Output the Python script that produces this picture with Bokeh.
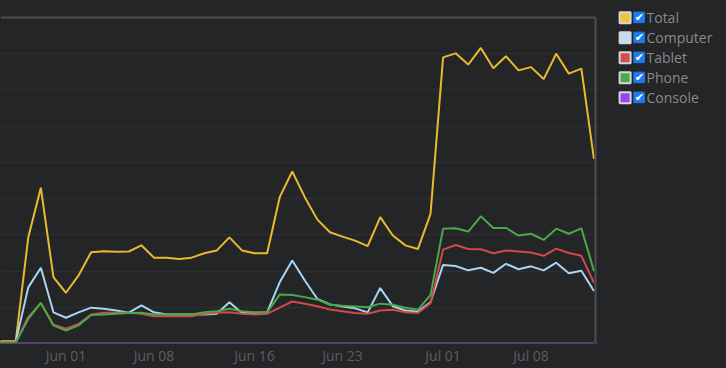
from datetime import datetime, timedelta
import pandas as pd
from bokeh.plotting import figure
from bokeh.models import (ColumnDataSource, Range1d, FixedTicker, DatetimeTickFormatter,
                          Span, Grid, GlobalInlineStyleSheet)
from bokeh.layouts import row
from bokeh.embed import file_html
from bokeh.resources import INLINE
from bokeh.core.properties import value

# ---------------- data ----------------
dates = pd.date_range("2024-05-26", "2024-07-13", freq="D")

total = [6, 6, 6, 293, 430, 183, 140, 188, 252, 255, 253, 254, 271,
         237, 237, 233, 237, 249, 257, 293, 257, 249, 249, 404, 475,
         404, 342, 307, 295, 284, 269, 349, 298, 271, 261, 358,
         790, 801, 770, 816, 760, 793, 754, 763, 730, 800, 745, 759, 510]
computer = [4, 4, 4, 155, 209, 86, 71, 86, 99, 96, 91, 85, 105,
            86, 80, 80, 80, 80, 82, 114, 84, 84, 86, 169, 229,
            174, 123, 108, 102, 97, 86, 153, 103, 91, 88, 114,
            217, 214, 202, 209, 195, 220, 205, 213, 202, 223, 194, 201, 145]
tablet = [3, 3, 3, 73, 112, 52, 41, 54, 80, 85, 85, 85, 82,
          75, 75, 75, 75, 82, 85, 86, 82, 80, 82, 99, 116,
          110, 103, 94, 89, 84, 82, 91, 93, 86, 84, 111,
          259, 272, 261, 260, 249, 257, 254, 251, 242, 262, 250, 242, 168]
phone = [2, 2, 2, 68, 112, 50, 36, 50, 79, 80, 82, 84, 85,
         80, 80, 80, 80, 86, 89, 96, 89, 86, 86, 135, 134,
         128, 121, 107, 104, 102, 100, 110, 107, 99, 93, 134,
         317, 318, 309, 351, 319, 319, 298, 303, 286, 317, 303, 318, 200]
console = [0] * 49

tick_dates = ["2024-06-01", "2024-06-08", "2024-06-16", "2024-06-23", "2024-07-01", "2024-07-08"]
y_max = 900
grid_ticks = [100, 200, 300, 400, 500, 600, 700, 800]

series_names = ["Total", "Computer", "Tablet", "Phone", "Console"]
series_colors = ["#e9b92f", "#a9d4f2", "#d04a4a", "#4aa84a", "#9043ee"]
swatch_colors = ["#f0c23c", "#bfe0fa", "#d24d4d", "#4caa4c", "#9446f0"]

# ---------------- style ----------------
BG = "#242527"
GRID = "#2c2d30"
BORDER = "#4e4f51"
LABEL = "#5d5e61"
FONT = "Open Sans"

src = ColumnDataSource(dict(date=dates, Total=total, Computer=computer,
                            Tablet=tablet, Phone=phone, Console=console))

# pixel geometry of the frame
px_per_day = 12.57
anchor = datetime(2024, 6, 1)
anchor_px = 65.5
W1 = 598
H = 368
frame_bottom = 343
frame_top_px = 17
border_px = 595

def px_to_date(px):
    return anchor + timedelta(days=(px - anchor_px) / px_per_day)

x_start = px_to_date(0)
x_end = px_to_date(W1)
border_x = px_to_date(border_px)
y_top = y_max * frame_bottom / (frame_bottom - frame_top_px)

p = figure(width=W1, height=H, x_axis_type="datetime",
           x_range=Range1d(x_start, x_end), y_range=Range1d(0, y_top),
           y_axis_location=None, toolbar_location=None, output_backend="svg",
           min_border_left=0, min_border_right=0, min_border_top=0,
           min_border_bottom=H - frame_bottom,
           background_fill_color=BG, border_fill_color=BG, outline_line_color=None)

for g in p.grid:
    g.visible = False
p.add_layout(Grid(dimension=1, ticker=FixedTicker(ticks=grid_ticks),
                  grid_line_color=GRID, grid_line_width=2))

tick_ms = [pd.Timestamp(d).value / 1e6 for d in tick_dates]
ax = p.xaxis[0]
ax.ticker = FixedTicker(ticks=tick_ms)
ax.formatter = DatetimeTickFormatter(days="%b %d", months="%b %d", hours="%b %d")
ax.axis_line_color = None
ax.major_tick_line_color = None
ax.minor_tick_line_color = None
ax.major_tick_out = 0
ax.major_tick_in = 0
ax.major_label_standoff = 2
ax.major_label_text_color = LABEL
ax.major_label_text_font = FONT
ax.major_label_text_font_size = "14px"

# draw console first so it sits beneath
order = [4, 0, 1, 2, 3]
for i in order:
    p.line("date", series_names[i], source=src, line_color=series_colors[i], line_width=2)

# frame borders (top, right, bottom axis line)
p.segment(x0=[x_start], y0=[y_max], x1=[border_x], y1=[y_max], line_color=BORDER, line_width=2)
p.segment(x0=[border_x], y0=[0], x1=[border_x], y1=[y_max], line_color=BORDER, line_width=2)
p.add_layout(Span(location=0, dimension="width", line_color=BORDER, line_width=2))

# ---------------- legend panel ----------------
W2 = 726 - W1
lg = figure(width=W2, height=H, x_range=Range1d(0, W2), y_range=Range1d(frame_bottom, 0),
            toolbar_location=None, output_backend="svg", min_border_left=0,
            min_border_right=0, min_border_top=0, min_border_bottom=H - frame_bottom,
            x_axis_location=None, y_axis_location=None, outline_line_color=None,
            background_fill_color=BG, border_fill_color=BG)
for g in lg.grid:
    g.visible = False

rows_y = [17.3 + 20 * k for k in range(len(series_names))]
lg.rect(x=[26.6] * 5, y=rows_y, width=11, height=11, fill_color=swatch_colors,
        line_color="#d6d6d6", line_width=2)
lg.rect(x=[40.6] * 5, y=[v - 0.4 for v in rows_y], width=10.5, height=10.5,
        fill_color="#1b7cf2", line_color="#1b7cf2", line_width=1)
lg.text(x=[40.8] * 5, y=[v for v in rows_y], text=["\u2714"] * 5, text_color="white",
        text_font=value("DejaVu Sans"), text_font_size="11px",
        text_align="center", text_baseline="middle")
lg.text(x=[48] * 5, y=rows_y, text=series_names, text_color="#8a8a8a",
        text_font=value(FONT), text_font_size="14px",
        text_align="left", text_baseline="middle")

layout = row(p, lg, spacing=0)
layout.stylesheets = [GlobalInlineStyleSheet(
    css="html, body { background-color: #242527; overflow: hidden; }")]

open("out.html", "w").write(file_html(layout, INLINE))
